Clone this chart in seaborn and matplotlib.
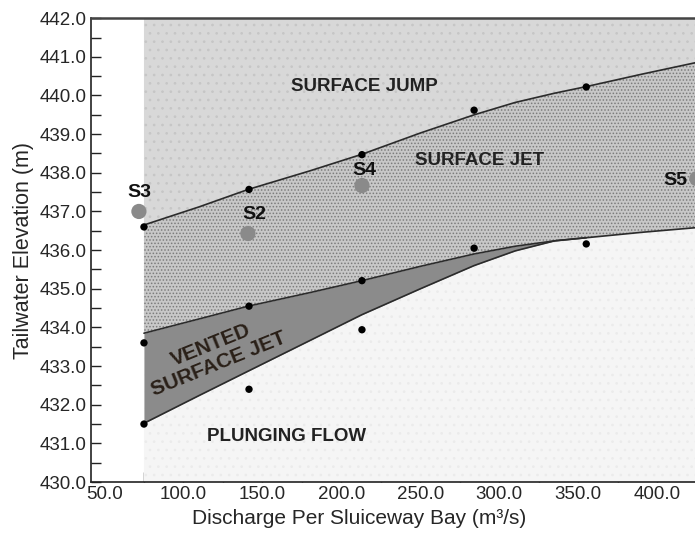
import numpy as np
import pandas as pd
import matplotlib
matplotlib.use('Agg')
import matplotlib.pyplot as plt
import seaborn as sns
from matplotlib.ticker import MultipleLocator, FormatStrFormatter

# === DATA ===
# boundary curves between flow regimes, on a shared discharge grid
BX = [75, 110, 141, 180, 213, 250, 284, 310, 335, 355, 390, 430]
UPPER = [436.65, 437.12, 437.57, 438.05, 438.48, 439.03, 439.5, 439.82, 440.06, 440.23, 440.55, 440.9]
MIDDLE = [433.85, 434.22, 434.55, 434.9, 435.21, 435.58, 435.9, 436.1, 436.24, 436.32, 436.46, 436.6]
LOWER = [431.52, 432.24, 432.87, 433.66, 434.33, 435.0, 435.6, 435.98, 436.24, 436.32, 436.46, 436.6]

# observed points (black dots)
OBS_Q = [75, 75, 75, 141.5, 141.5, 141.5, 213, 213, 213, 284, 284, 355, 355]
OBS_EL = [436.6, 433.6, 431.5, 437.57, 434.55, 432.4, 438.47, 435.21, 433.94, 439.62, 436.05, 440.22, 436.16]

# stations
STATIONS = ['S3', 'S2', 'S4', 'S5']
ST_Q = [71.8, 140.8, 213, 425]
ST_EL = [437.0, 436.43, 437.67, 437.85]
ST_LABEL_Q = [72.4, 144.6, 214.8, 411.5]
ST_LABEL_EL = [437.5, 436.92, 438.05, 437.8]

sns.set_style('ticks')
plt.rcParams['hatch.linewidth'] = 0.7
NARROW = ['Liberation Sans Narrow', 'Liberation Sans', 'DejaVu Sans']
BOLD = ['Liberation Sans', 'DejaVu Sans']

fig = plt.figure(figsize=(6.95, 5.35), dpi=100)
ax = fig.add_axes([0.131, 0.099, 0.883, 0.867])

bx = np.array(BX)
up = np.array(UPPER)
mid = np.array(MIDDLE)
low = np.array(LOWER)

# regime fills
ax.fill_between(bx, up, 442, facecolor='#d8d8d8', edgecolor='#c6c6c6', hatch='..', linewidth=0, zorder=1)
ax.fill_between(bx, mid, up, facecolor='#c8c8c8', edgecolor='#7c7c7c', hatch='.....', linewidth=0, zorder=1)
ax.fill_between(bx, 430, mid, facecolor='#f5f5f5', edgecolor='#ebebeb', hatch='..', linewidth=0, zorder=1)
ax.fill_between(bx, low, mid, facecolor='#8b8b8b', edgecolor='#8b8b8b', linewidth=0, zorder=2)

# boundary lines
lines = pd.DataFrame({'q': BX, 'upper': UPPER, 'middle': MIDDLE})
sns.lineplot(data=lines, x='q', y='upper', color='#2b2b2b', lw=1.2, ax=ax, zorder=3)
sns.lineplot(data=lines, x='q', y='middle', color='#2b2b2b', lw=1.2, ax=ax, zorder=3)
ax.plot(bx[:10], low[:10], color='#2b2b2b', lw=1.2, zorder=3)

# observed points
obs = pd.DataFrame({'q': OBS_Q, 'el': OBS_EL})
sns.scatterplot(data=obs, x='q', y='el', color='black', s=28, edgecolor='none', ax=ax, zorder=5)

# stations
st = pd.DataFrame({'q': ST_Q, 'el': ST_EL, 'name': STATIONS})
sns.scatterplot(data=st, x='q', y='el', color='#8a8a8a', s=120, edgecolor='none', ax=ax, zorder=5)
for name, q, el in zip(STATIONS, ST_LABEL_Q, ST_LABEL_EL):
    ax.text(q, el, name, ha='center', va='center', fontsize=14, fontweight='bold',
            family=BOLD, color='#111111', zorder=6)

# regime labels
ax.text(214.8, 440.24, 'SURFACE JUMP', ha='center', va='center', fontsize=13.5,
        fontweight='bold', family=BOLD, color='#222222', zorder=6)
ax.text(287.7, 438.32, 'SURFACE JET', ha='center', va='center', fontsize=13.5,
        fontweight='bold', family=BOLD, color='#222222', zorder=6)
ax.text(120, 433.3, 'VENTED\nSURFACE JET', ha='center', va='center', fontsize=15,
        fontweight='bold', family=BOLD, color='#2a2018', rotation=22,
        multialignment='center', linespacing=1.05, zorder=6)
ax.text(165.5, 431.17, 'PLUNGING FLOW', ha='center', va='center', fontsize=13.5,
        fontweight='bold', family=BOLD, color='#222222', zorder=6)

ax.set_xlim(41.5, 430)
ax.set_ylim(430, 442)
ax.xaxis.set_major_locator(MultipleLocator(50))
ax.xaxis.set_minor_locator(MultipleLocator(25))
ax.yaxis.set_major_locator(MultipleLocator(1))
ax.yaxis.set_minor_locator(MultipleLocator(0.5))
ax.xaxis.set_major_formatter(FormatStrFormatter('%.1f'))
ax.yaxis.set_major_formatter(FormatStrFormatter('%.1f'))
ax.tick_params(which='both', direction='in', length=7, width=1, color='#222222')
ax.tick_params(axis='both', which='major', labelsize=13.5, pad=3)
for lab in ax.get_xticklabels() + ax.get_yticklabels():
    lab.set_family(NARROW)
# the reference shows no tick mark at 50
for t in ax.xaxis.get_major_ticks():
    if abs(t.get_loc() - 50) < 1e-6:
        t.tick1line.set_visible(False)

ax.set_xlabel('Discharge Per Sluiceway Bay (m³/s)', fontsize=15, family=NARROW)
ax.xaxis.set_label_coords(0.437, -0.058)
ax.set_ylabel('Tailwater Elevation (m)', fontsize=15.5, family=NARROW, labelpad=4)

ax.spines['right'].set_visible(False)
ax.spines['top'].set_linewidth(1.8)
ax.spines['top'].set_color('#444444')
for side in ['left', 'bottom']:
    ax.spines[side].set_linewidth(1.2)
    ax.spines[side].set_color('#222222')

fig.savefig('out.png', dpi=100)
